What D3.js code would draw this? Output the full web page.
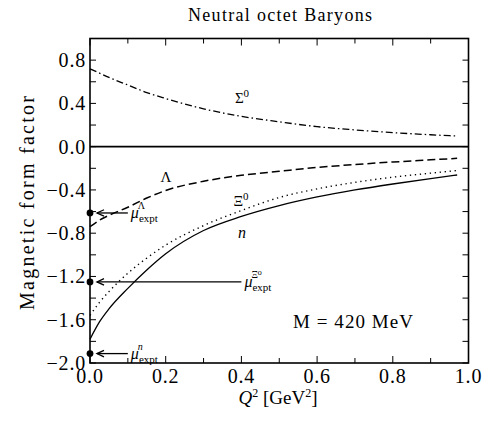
<!DOCTYPE html>
<html>
<head>
<meta charset="utf-8">
<script src="https://cdn.jsdelivr.net/npm/d3@7"></script>
<style>
  body { margin: 0; background: #fff; }
  text { font-family: "Liberation Serif", "DejaVu Serif", serif; fill: #000; }
</style>
</head>
<body>
<svg id="chart" width="485" height="426"></svg>
<script>
// Q^2 grid (GeV^2) and magnetic form factors
const q2 = [0, 0.025, 0.05, 0.1, 0.15, 0.2, 0.3, 0.4, 0.5, 0.6, 0.7, 0.8, 0.9, 0.97];
const sigma0 = [0.72, 0.68, 0.64, 0.57, 0.5, 0.445, 0.35, 0.28, 0.23, 0.185, 0.155, 0.13, 0.11, 0.098];
const lambda = [-0.74, -0.68, -0.635, -0.56, -0.475, -0.405, -0.32, -0.265, -0.228, -0.192, -0.165, -0.142, -0.122, -0.108];
const xi0 = [-1.56, -1.44, -1.34, -1.17, -1.03, -0.91, -0.73, -0.59, -0.47, -0.39, -0.33, -0.282, -0.245, -0.22];
const neutron = [-1.78, -1.62, -1.5, -1.31, -1.14, -0.99, -0.775, -0.645, -0.545, -0.465, -0.4, -0.345, -0.295, -0.262];

// experimental magnetic moments (at Q^2 = 0)
const exptNames = ['Λ', 'Ξ⁰', 'n'];
const exptValues = [-0.613, -1.25, -1.913];
const exptArrowEnd = [0.1, 0.4, 0.1];

const xTicks = d3.range(0, 1.0001, 0.1);
const xLabels = [0, 0.2, 0.4, 0.6, 0.8, 1.0];
const yTicks = d3.range(-2.0, 1.0001, 0.2);
const yLabels = [-2.0, -1.6, -1.2, -0.8, -0.4, 0.0, 0.4, 0.8];

const svg = d3.select('#chart');
const x = d3.scaleLinear().domain([0, 1]).range([90, 468.5]);
const y = d3.scaleLinear().domain([-2, 1]).range([363, 38.5]);

const fmt = (v) => (Math.abs(v) < 1e-9 ? '0.0' : d3.format('.1f')(v).replace('-', '−'));

// ticks inward on all four sides
const tk = svg.append('g').attr('stroke', '#000').attr('stroke-width', 1);
xTicks.forEach((t) => {
  const len = Math.round(t * 10) % 2 === 0 ? 7 : 5;
  tk.append('line').attr('x1', x(t)).attr('x2', x(t)).attr('y1', y(-2)).attr('y2', y(-2) - len);
  tk.append('line').attr('x1', x(t)).attr('x2', x(t)).attr('y1', y(1)).attr('y2', y(1) + len);
});
yTicks.forEach((t) => {
  tk.append('line').attr('x1', x(0)).attr('x2', x(0) + 6).attr('y1', y(t)).attr('y2', y(t));
  tk.append('line').attr('x1', x(1)).attr('x2', x(1) - 6).attr('y1', y(t)).attr('y2', y(t));
});

svg.append('rect')
  .attr('x', x(0)).attr('y', y(1))
  .attr('width', x(1) - x(0)).attr('height', y(-2) - y(1))
  .attr('fill', 'none').attr('stroke', '#000').attr('stroke-width', 1.6);

// zero line
svg.append('line')
  .attr('x1', x(0)).attr('x2', x(1)).attr('y1', y(0)).attr('y2', y(0))
  .attr('stroke', '#000').attr('stroke-width', 1.8);

svg.append('g').selectAll('text').data(xLabels).join('text')
  .attr('x', (d) => x(d)).attr('y', 383)
  .attr('text-anchor', 'middle').attr('font-size', 20).attr('letter-spacing', 0.8)
  .text((d) => d3.format('.1f')(d));

svg.append('g').selectAll('text').data(yLabels).join('text')
  .attr('x', 86).attr('y', (d) => y(d) + 7)
  .attr('text-anchor', 'end').attr('font-size', 20).attr('letter-spacing', 0.8)
  .text(fmt);

// curves
const line = d3.line().x((d) => x(d[0])).y((d) => y(d[1])).curve(d3.curveMonotoneX);
const series = [
  { vals: sigma0, dash: '7,3,1.5,3', w: 1.3 },
  { vals: lambda, dash: '8,4', w: 1.5 },
  { vals: xi0, dash: '1.3,3.7', w: 1.4 },
  { vals: neutron, dash: null, w: 1.3 },
];
series.forEach((s) => {
  svg.append('path')
    .datum(q2.map((q, i) => [q, s.vals[i]]))
    .attr('d', line)
    .attr('fill', 'none').attr('stroke', '#000')
    .attr('stroke-width', s.w)
    .attr('stroke-dasharray', s.dash);
});

// experimental points with arrows
exptValues.forEach((v, i) => {
  const yy = y(v);
  const tip = x(0) + 7;
  svg.append('circle').attr('cx', x(0)).attr('cy', yy).attr('r', 3.4).attr('fill', '#000');
  svg.append('line')
    .attr('x1', x(exptArrowEnd[i])).attr('x2', tip)
    .attr('y1', yy).attr('y2', yy)
    .attr('stroke', '#000').attr('stroke-width', 1.3);
  svg.append('path')
    .attr('d', `M${tip + 7},${yy - 3.2} L${tip},${yy} L${tip + 7},${yy + 3.2}`)
    .attr('fill', 'none').attr('stroke', '#000').attr('stroke-width', 1.3);
  const t = svg.append('text')
    .attr('x', x(exptArrowEnd[i]) + 3).attr('y', yy + 5)
    .attr('font-size', 16);
  t.append('tspan').attr('font-style', 'italic').text('μ');
  t.append('tspan').attr('font-size', 11).attr('dy', 4).text('expt');
  t.append('tspan').attr('font-size', 10).attr('font-style', i === 2 ? 'italic' : 'normal')
    .attr('dx', -20).attr('dy', -13).text(exptNames[i]);
});

// curve labels
svg.append('text').attr('x', 242).attr('y', 103).attr('text-anchor', 'middle').attr('font-size', 15)
  .text('Σ').append('tspan').attr('font-size', 11).attr('dy', -6).text('0');
svg.append('text').attr('x', 166).attr('y', 182).attr('text-anchor', 'middle').attr('font-size', 15).text('Λ');
svg.append('text').attr('x', 241).attr('y', 206).attr('text-anchor', 'middle').attr('font-size', 15)
  .text('Ξ').append('tspan').attr('font-size', 11).attr('dy', -6).text('0');
svg.append('text').attr('x', 242).attr('y', 238).attr('text-anchor', 'middle').attr('font-size', 16)
  .attr('font-style', 'italic').text('n');
svg.append('text').attr('x', 293).attr('y', 328).attr('font-size', 19)
  .attr('textLength', 120).attr('lengthAdjust', 'spacing')
  .text('M = 420 MeV');

// titles
svg.append('text').attr('x', 188).attr('y', 21).attr('font-size', 18)
  .attr('textLength', 184).attr('lengthAdjust', 'spacing')
  .text('Neutral octet Baryons');

const xt = svg.append('text').attr('x', 278).attr('y', 404).attr('text-anchor', 'middle').attr('font-size', 19);
xt.append('tspan').attr('font-style', 'italic').text('Q');
xt.append('tspan').attr('font-size', 12).attr('dy', -7).text('2');
xt.append('tspan').attr('dy', 7).text(' [GeV');
xt.append('tspan').attr('font-size', 12).attr('dy', -7).text('2');
xt.append('tspan').attr('dy', 7).text(']');

svg.append('text')
  .attr('transform', 'translate(34,203) rotate(-90)')
  .attr('text-anchor', 'middle').attr('font-size', 20)
  .attr('textLength', 214).attr('lengthAdjust', 'spacing')
  .text('Magnetic form factor');
</script>
</body>
</html>
